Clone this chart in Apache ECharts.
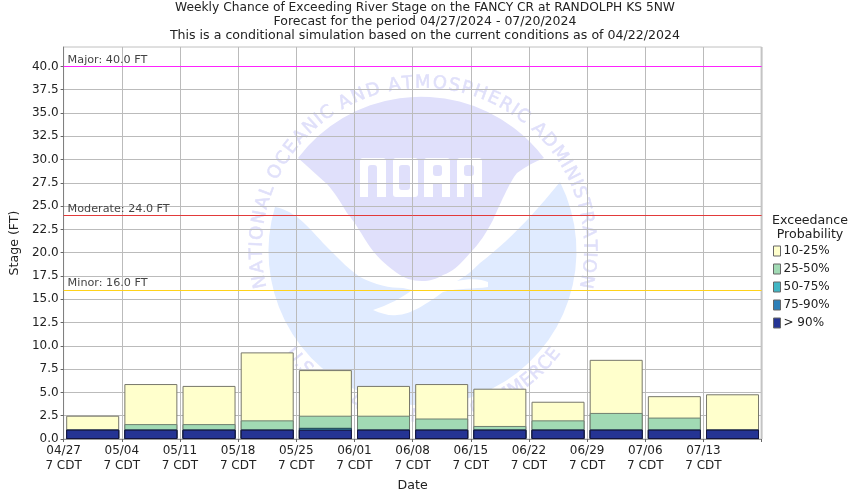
<!DOCTYPE html>
<html><head><meta charset="utf-8">
<script src="https://cdn.jsdelivr.net/npm/echarts@6/dist/echarts.min.js"></script>
<style>html,body{margin:0;padding:0;background:#fff}#c{width:850px;height:500px}</style>
</head><body><div id="c"></div>
<script>
const weekLabels = ['04/27','05/04','05/11','05/18','05/25','06/01','06/08','06/15','06/22','06/29','07/06','07/13'];
const stage10to25 = [2.5,5.9,5.7,9.3,7.4,5.7,5.9,5.4,4.0,8.5,4.6,4.8];
const stage25to50 = [1.0,1.6,1.6,2.0,2.5,2.5,2.2,1.4,2.0,2.8,2.3,1.0];
const stage50to75 = [1.0,1.0,1.0,1.0,1.2,1.0,1.0,1.0,1.0,1.0,1.0,1.0];
const stage75to90 = [1.0,1.0,1.0,1.0,1.0,1.0,1.0,1.0,1.0,1.0,1.0,1.0];
const stageOver90 = [1.0,1.0,1.0,1.0,1.0,1.0,1.0,1.0,1.0,1.0,1.0,1.0];
const yTicks = [0,2.5,5,7.5,10,12.5,15,17.5,20,22.5,25,27.5,30,32.5,35,37.5,40];
const floodNames = ['Major','Moderate','Minor'];
const floodStages = [40,24,16];
const floodColors = ['#ff22ff','#e23a3a','#ffd21a'];
const seriesNames = ['10-25%','25-50%','50-75%','75-90%','> 90%'];
const seriesColors = ['#ffffcc','#a1dab4','#41b6c4','#2c7fb8','#253494'];
const seriesBorders = ['#77776a','#6f7f70','#1c3a4a','#1c2a50','#14143c'];
const titleLines = ['Weekly Chance of Exceeding River Stage on the FANCY CR at RANDOLPH KS 5NW','Forecast for the period 04/27/2024 - 07/20/2024','This is a conditional simulation based on the current conditions as of 04/22/2024'];
const titleSizes = [12.25,12.5,12.6];

const font = '"DejaVu Sans"';
const chart = echarts.init(document.getElementById('c'), null, {renderer:'canvas'});

// watermark
const cx = 423, cy = 249;
const blueD = 'M275,207C285,209 291,213 297,217C306,224 315,234 323,243C330,250 335,255 340,260C347,267 353,272 360,277C375,285 390,288 403,288L412,290C402,298 388,305 373,310C382,314 390,316 397,315C410,315 428,303 443,292C458,288 475,289 488,287L488,282C482,279 470,278 457,281C465,277 473,270 480,263C497,250 515,233 530,217C540,206 550,194 560,182A154,154 0 1 1 275,207Z';
const domeD = 'M298,158A154,154 0 0 1 544,158C534,162 525,167 517,173C510,181 499,207 493,220C486,233 480,243 470,253C460,265 452,272 443,275C436,279 430,281 422,281C412,281 404,278 397,273C387,266 378,258 370,247C362,235 355,222 347,213C340,201 335,193 327,184C317,175 308,167 298,158Z';
const noaaD = 'M363,158H383Q386,158 386,161V197H377V168Q377,165 374,165H371Q368,165 368,168V197H360V161Q360,158 363,158Z M396,158H415Q418,158 418,161V194Q418,197 415,197H396Q393,197 393,194V161Q393,158 396,158Z M399,168V187Q399,190 402,190H407Q410,190 410,187V168Q410,165 407,165H402Q399,165 399,168Z M427,158H447Q450,158 450,161V197H442V183H433V197H424V161Q424,158 427,158Z M433,168V173Q433,176 436,176H439Q442,176 442,173V168Q442,165 439,165H436Q433,165 433,168Z M460,158H479Q482,158 482,161V197H474V183H464V197H457V161Q457,158 460,158Z M464,168V173Q464,176 467,176H471Q474,176 474,173V168Q474,165 471,165H467Q464,165 464,168Z';
echarts.graphic.registerShape('wmBlue', echarts.graphic.extendPath(blueD, {}));
echarts.graphic.registerShape('wmDome', echarts.graphic.extendPath(domeD, {}));
echarts.graphic.registerShape('wmNoaa', echarts.graphic.extendPath(noaaD, {}));

function ring(text, r, fromDeg, toDeg, top){
  const ctx = document.createElement('canvas').getContext('2d');
  ctx.font = '18px ' + font;
  const w = Array.from(text).map(c => ctx.measureText(c).width);
  const total = w.reduce((a,b)=>a+b,0);
  const span = (toDeg-fromDeg)*Math.PI/180;
  let pos = 0; const out = [];
  Array.from(text).forEach((c,i)=>{
    const t = fromDeg*Math.PI/180 + (pos + w[i]/2)/total*span;
    pos += w[i];
    if (c === ' ') return;
    out.push({type:'text', z:-5, silent:true,
      x: cx + r*Math.sin(t), y: top ? cy - r*Math.cos(t) : cy + r*Math.cos(t),
      rotation: top ? -t : t,
      style:{text:c, font:'18px '+font, fill:'#e0e0fa', stroke:'#e0e0fa', lineWidth:0.5, textAlign:'center', textVerticalAlign:'middle'}});
  });
  return out;
}
const watermark = [
  {type:'wmBlue', z:-9, silent:true, style:{fill:'#e0ebff'}},
  {type:'wmDome', z:-8, silent:true, style:{fill:'#e0e0fb'}},
  {type:'wmNoaa', z:-7, silent:true, style:{fill:'#ffffff'}},
  ...ring('NATIONAL OCEANIC AND ATMOSPHERIC ADMINISTRATION',166,-104,104,true),
  ...ring('U.S. DEPARTMENT OF COMMERCE',168,-53,53,false)
];

const markData = floodNames.map((n,i)=>({
  yAxis: floodStages[i],
  lineStyle:{color:floodColors[i],width:1,type:'solid'},
  label:{formatter:n+': '+floodStages[i].toFixed(1)+' FT'}
}));

const allStages = [stage10to25,stage25to50,stage50to75,stage75to90,stageOver90];
const series = seriesNames.map((name,i)=>({
  name, type:'bar', xAxisIndex:1, yAxisIndex:0, barWidth:53, barGap:'-100%',
  z:2+i, data:allStages[i],
  itemStyle:{color:seriesColors[i],borderColor:seriesBorders[i],borderWidth:1},
  ...(i===0?{markLine:{silent:true,symbol:'none',animation:false,z:10,
    label:{position:'insideStartTop',distance:[4,1],color:'#444',fontFamily:font,fontSize:11.2},
    data:markData}}:{})
}));

chart.setOption({
  animation:false,
  backgroundColor:'#fff',
  textStyle:{fontFamily:font},
  title:[
    ...titleLines.map((t,i)=>({text:t,left:425,top:1+14*i,padding:0,textAlign:'center',
      textStyle:{fontFamily:font,fontSize:titleSizes[i],fontWeight:'normal',color:'#222',lineHeight:14}})),
    {text:'Exceedance\nProbability',left:810,top:214,padding:0,textAlign:'center',
     textStyle:{fontFamily:font,fontSize:12.6,fontWeight:'normal',color:'#222',lineHeight:14}}
  ],
  legend:{orient:'vertical',left:773,top:245,padding:0,itemWidth:7,itemHeight:10,itemGap:6,
    data:seriesNames,selectedMode:false,icon:'rect',
    itemStyle:{borderColor:'#666',borderWidth:1},
    textStyle:{fontFamily:font,fontSize:12,color:'#222',padding:[0,0,0,-2]}},
  grid:{left:63,top:47,width:698.6,height:392,show:true,borderColor:'#c0c0c0',borderWidth:1,backgroundColor:'transparent'},
  xAxis:[
    {type:'value',min:0,max:12,interval:1,
     name:'Date',nameLocation:'middle',nameGap:40,
     nameTextStyle:{fontFamily:font,fontSize:12.6,color:'#222'},
     axisLine:{show:true,onZero:false,lineStyle:{color:'#999'}},
     axisTick:{show:true,length:3,lineStyle:{color:'#666'}},
     splitLine:{show:true,lineStyle:{color:'#bbb',width:1}},
     axisLabel:{show:true,margin:4,fontFamily:font,fontSize:12,color:'#222',lineHeight:15,
       hideOverlap:false,showMinLabel:true,showMaxLabel:true,
       formatter:v=>weekLabels[v]?weekLabels[v]+'\n7 CDT':''}},
    {type:'category',data:weekLabels,boundaryGap:true,show:false}
  ],
  yAxis:[{type:'value',min:0,max:42.09,
     name:'Stage (FT)',nameLocation:'middle',nameGap:39,nameRotate:90,
     nameTextStyle:{fontFamily:font,fontSize:12.6,color:'#222'},
     axisLine:{show:true,lineStyle:{color:'#808080'}},
     axisTick:{show:true,length:3,lineStyle:{color:'#666'},customValues:yTicks},
     splitLine:{show:true,lineStyle:{color:'#bbb',width:1}},
     axisLabel:{margin:5,fontFamily:font,fontSize:12,color:'#222',customValues:yTicks,
       formatter:v=>v.toFixed(1)}}],
  graphic:{elements:[
    ...watermark,
    {type:'rect',z:1,silent:true,shape:{x:760.6,y:47,width:2,height:392},style:{fill:'#c4c4c4'}}
  ]},
  series
});
</script></body></html>
